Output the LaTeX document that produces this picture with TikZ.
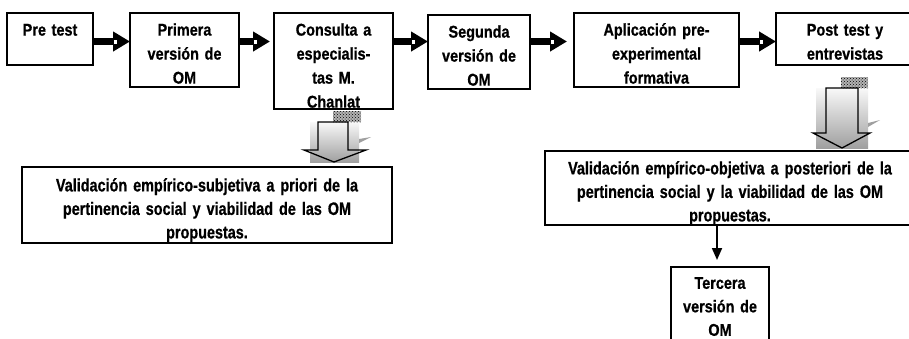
\documentclass[tikz,border=0pt]{standalone}
\usepackage{fontspec}
\setmainfont{Liberation Sans}
\newfontfamily\topfont{Liberation Sans Bold}[FakeStretch=0.85, FakeBold=0.7]
\newfontfamily\valfont{Liberation Sans Bold}[FakeStretch=0.8, FakeBold=0.7]
\usetikzlibrary{arrows.meta,calc,patterns}
\begin{document}
\begin{tikzpicture}[x=1pt,y=-1pt,
  box/.style={draw, line width=1.6pt, inner sep=0pt, outer sep=0pt},
  txt/.style={anchor=base, inner sep=0pt, align=center, font=\topfont\fontsize{17}{24}\selectfont},
  vtxt/.style={anchor=base, inner sep=0pt, align=center, font=\valfont\fontsize{18}{23.5}\selectfont},
  blk/.style={line width=7pt, -{Triangle[width=19pt,length=17pt]}},
  notch/.style={fill=white},
  hollow/.style={draw, line width=1.3pt, line join=miter},
  shadebg/.style={top color=gray!5, bottom color=gray!75},
  hatchbg/.style={fill=gray!60},
  hatchfg/.style={pattern=crosshatch dots, pattern color=black},
  flag/.style={fill=gray!75},
  thinarrow/.style={line width=1.8pt, -{Triangle[width=10pt,length=12pt]}},
]
\fill[white] (0,0) rectangle (909,338);
\useasboundingbox (0,0) rectangle (909,338);

% boxes
\node[box, minimum width=86pt,  minimum height=52pt] (pre)  at (50,39) {};
\node[box, minimum width=109pt, minimum height=74pt] (prim) at (184.5,50) {};
\node[box, minimum width=119pt, minimum height=96pt] (cons) at (333.5,61) {};
\node[box, minimum width=102pt, minimum height=74pt] (seg)  at (479,52) {};
\node[box, minimum width=165pt, minimum height=74pt] (apl)  at (656.5,50) {};
\node[box, minimum width=138pt, minimum height=52pt] (post) at (845,39) {};
\node[box, minimum width=370pt, minimum height=76pt] (valL) at (207,205) {};
\node[box, minimum width=370pt, minimum height=74pt] (valR) at (730,188) {};
\node[box, minimum width=98pt,  minimum height=83pt] (ter)  at (720,308.5) {};

% texts
\node[txt, text width=80pt]  (tpre)  at ($(pre.north)+(0,22.6)$)  {Pre test};
\node[txt, text width=100pt] (tprim) at ($(prim.north)+(0,22.6)$) {Primera\\versión de\\OM};
\node[txt, text width=110pt] (tcons) at ($(cons.north)+(0,22.6)$) {Consulta a\\especialis-\\tas M.\\Chanlat};
\node[txt, text width=95pt]  (tseg)  at ($(seg.north)+(0,22.6)$)  {Segunda\\versión de\\OM};
\node[txt, text width=158pt] (tapl)  at ($(apl.north)+(0,22.6)$)  {Aplicación pre-\\experimental\\formativa};
\node[txt, text width=130pt] (tpost) at ($(post.north)+(0,22.6)$) {Post test y\\entrevistas};
\node[vtxt, text width=362pt] (tvalL) at ($(valL.north)+(0,24.4)$) {Validación empírico-subjetiva a priori de la\\pertinencia social y viabilidad de las OM\\propuestas.};
\node[vtxt, text width=362pt] (tvalR) at ($(valR.north)+(0,23.4)$) {Validación empírico-objetiva a posteriori de la\\pertinencia social y la viabilidad de las OM\\propuestas.};
\node[txt, text width=90pt, font=\topfont\fontsize{17}{23.5}\selectfont] (tter) at ($(ter.north)+(0,21.8)$) {Tercera\\versión de\\OM};

% horizontal block arrows
\coordinate (a1) at (prim.west |- 0,41.5);
\coordinate (a2) at ($(cons.west |- 0,41.5)+(-4,0)$);
\coordinate (a3) at (seg.west |- 0,41.5);
\coordinate (a4) at ($(apl.west |- 0,41.5)+(-7,0)$);
\coordinate (a5) at (post.west |- 0,41.5);
\draw[blk] (pre.east |- 0,41.5) -- (a1);
\draw[blk] (prim.east |- 0,41.5) -- (a2);
\draw[blk] (cons.east |- 0,41.5) -- (a3);
\draw[blk] (seg.east |- 0,41.5) -- (a4);
\draw[blk] (apl.east |- 0,41.5) -- (a5);
\foreach \c in {a1,a2,a3,a4,a5}
  \fill[notch] ($(\c)+(-16.5,-2)$) rectangle ++(3.5,4.5);

% down block arrow under Consulta
\coordinate (d1) at (334,162);
\fill[shadebg] ($(d1)+(-24,-40)$) rectangle ($(d1)+(25,0)$);
\fill[hatchbg] ($(d1)+(-1,-51)$) rectangle ($(d1)+(27,-40)$);
\fill[hatchfg] ($(d1)+(-1,-51)$) rectangle ($(d1)+(27,-40)$);
\fill[flag] ($(d1)+(25,-23)$) -- ($(d1)+(37,-25)$) -- ($(d1)+(25,-19)$) -- cycle;
\draw[hollow] ($(d1)+(-16,-40)$) -- ($(d1)+(-16,-12)$) -- ($(d1)+(-30,-12)$) -- (d1)
  -- ($(d1)+(32,-12)$) -- ($(d1)+(14,-12)$) -- ($(d1)+(14,-40)$) -- cycle;

% down block arrow under Post test
\coordinate (d2) at (842,148);
\fill[shadebg] ($(d2)+(-26,-60)$) rectangle ($(d2)+(26,0)$);
\fill[hatchbg] ($(d2)+(-1,-71)$) rectangle ($(d2)+(26,-60)$);
\fill[hatchfg] ($(d2)+(-1,-71)$) rectangle ($(d2)+(26,-60)$);
\fill[flag] ($(d2)+(26,-25)$) -- ($(d2)+(38,-28)$) -- ($(d2)+(26,-21)$) -- cycle;
\draw[hollow] ($(d2)+(-16,-60)$) -- ($(d2)+(-16,-15)$) -- ($(d2)+(-29,-15)$) -- (d2)
  -- ($(d2)+(28,-15)$) -- ($(d2)+(16,-15)$) -- ($(d2)+(16,-60)$) -- cycle;

% arrow to Tercera
\coordinate (tt) at ($(ter.north)+(-3,-7)$);
\coordinate (ts) at (tt |- valR.south);
\draw[thinarrow] (ts) -- (tt);
\end{tikzpicture}
\end{document}
